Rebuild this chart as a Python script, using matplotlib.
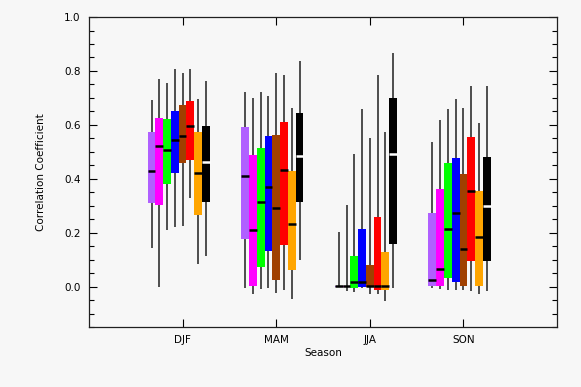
import matplotlib
matplotlib.use("Agg")
import matplotlib.pyplot as plt
import numpy as np
from matplotlib.ticker import MultipleLocator

seasons = ["DJF", "MAM", "JJA", "SON"]
colors = ["#b060ff", "#ff00ff", "#00ff00", "#0000ff", "#a04000", "#ff0000", "#ffa500", "#000000"]

# per season, one value per coloured series
whis_hi = [
    [0.693, 0.769, 0.754, 0.806, 0.794, 0.806, 0.695, 0.761],
    [0.723, 0.699, 0.723, 0.707, 0.794, 0.785, 0.662, 0.838],
    [0.203, 0.304, 0.491, 0.658, 0.551, 0.785, 0.575, 0.867],
    [0.536, 0.619, 0.658, 0.695, 0.662, 0.744, 0.606, 0.744],
]
q3 = [
    [0.572, 0.625, 0.621, 0.651, 0.674, 0.690, 0.572, 0.596],
    [0.591, 0.489, 0.514, 0.559, 0.563, 0.612, 0.427, 0.643],
    [0.004, 0.004, 0.112, 0.215, 0.079, 0.257, 0.128, 0.699],
    [0.273, 0.363, 0.460, 0.477, 0.419, 0.554, 0.353, 0.480],
]
med = [
    [0.430, 0.520, 0.507, 0.542, 0.560, 0.594, 0.421, 0.464],
    [0.412, 0.211, 0.314, 0.368, 0.290, 0.433, 0.232, 0.483],
    [0.001, 0.001, 0.016, 0.017, 0.001, 0.001, 0.001, 0.491],
    [0.023, 0.067, 0.215, 0.273, 0.141, 0.356, 0.183, 0.300],
]
q1 = [
    [0.311, 0.304, 0.380, 0.422, 0.459, 0.468, 0.267, 0.315],
    [0.177, 0.004, 0.073, 0.131, 0.023, 0.156, 0.063, 0.315],
    [-0.002, -0.002, -0.005, -0.001, 0.000, -0.014, -0.014, 0.159],
    [0.004, 0.004, 0.032, 0.016, 0.004, 0.094, 0.004, 0.094],
]
whis_lo = [
    [0.142, -0.001, 0.209, 0.221, 0.226, 0.327, 0.085, 0.112],
    [-0.005, -0.026, -0.009, -0.005, -0.023, -0.011, -0.046, 0.097],
    [0.000, -0.017, -0.021, -0.007, -0.026, -0.026, -0.054, -0.005],
    [-0.005, -0.009, -0.014, -0.014, -0.014, -0.017, -0.026, -0.017],
]

plt.rcParams['font.family'] = ['DejaVu Sans']
fig = plt.figure(figsize=(5.81, 3.87), dpi=100, facecolor='#f7f7f7')
ax = fig.add_axes([0.1532, 0.155, 0.8055, 0.801])
ax.set_facecolor('#f7f7f7')

step = 0.083
offsets = (np.arange(8) - 4) * step

for i in range(len(seasons)):
    xs = i + 1 + offsets
    ax.vlines(xs, whis_lo[i], whis_hi[i], color='#303030', lw=1.2, zorder=1)
    bottoms = np.array(q1[i])
    heights = np.maximum(np.array(q3[i]) - bottoms, 0.006)
    ax.bar(xs, heights, bottom=bottoms, width=step, color=colors, zorder=2)
    for j in range(8):
        c = 'white' if colors[j] == '#000000' else 'black'
        ax.hlines(med[i][j], xs[j] - step / 2, xs[j] + step / 2, color=c, lw=1.8, zorder=3)

ax.set_xlim(0, 5)
ax.set_ylim(-0.15, 1.0)
ax.set_xticks(range(1, 5))
ax.set_xticklabels(seasons)
ax.yaxis.set_minor_locator(MultipleLocator(0.05))
ax.set_yticks([0.0, 0.2, 0.4, 0.6, 0.8, 1.0])
ax.set_yticklabels(["0.0", "0.2", "0.4", "0.6", "0.8", "1.0"])
ax.tick_params(axis='both', which='major', direction='in', length=6, width=0.8,
               top=True, right=True, labelsize=7.5, pad=6)
ax.tick_params(axis='y', which='minor', direction='in', length=3.5, width=0.8, right=True)
for s in ax.spines.values():
    s.set_linewidth(0.9)
    s.set_color('#202020')

ax.set_xlabel("Season", fontsize=7.5, labelpad=2)
ax.set_ylabel("Correlation Coefficient", fontsize=7.5, labelpad=13)

fig.savefig("out.png", dpi=100, facecolor=fig.get_facecolor())
